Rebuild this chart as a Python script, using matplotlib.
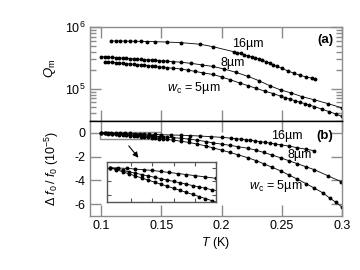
import matplotlib
matplotlib.use("Agg")
import matplotlib.pyplot as plt
import numpy as np
from matplotlib.patches import Rectangle
from matplotlib.ticker import LogLocator, NullFormatter, FixedLocator

plt.rcParams['font.family'] = ['Liberation Sans', 'DejaVu Sans']
plt.rcParams['mathtext.fontset'] = 'custom'
plt.rcParams['mathtext.rm'] = 'Liberation Sans'
plt.rcParams['mathtext.it'] = 'Liberation Sans:italic'

# ---- data: panel (a), Q_m in units of 1e5 ----
T16a = [0.108, 0.112, 0.116, 0.120, 0.124, 0.128, 0.133, 0.138, 0.145, 0.155, 0.166,
        0.1825, 0.193, 0.210, 0.213, 0.216, 0.219, 0.222, 0.225, 0.228, 0.231, 0.234,
        0.237, 0.240, 0.243, 0.246, 0.250, 0.255, 0.260, 0.265, 0.270, 0.275, 0.278]
Q16a = [5.94, 5.93, 5.92, 5.90, 5.89, 5.87, 5.85, 5.82, 5.78, 5.70, 5.58,
        5.25, 4.79, 3.98, 3.85, 3.72, 3.55, 3.39, 3.27, 3.16, 3.02, 2.88,
        2.75, 2.60, 2.45, 2.32, 2.14, 1.95, 1.78, 1.66, 1.55, 1.48, 1.45]

T8a = [0.100, 0.103, 0.106, 0.109, 0.112, 0.115, 0.118, 0.121, 0.124, 0.127, 0.130,
       0.133, 0.136, 0.139, 0.142, 0.145, 0.148, 0.151, 0.155, 0.160, 0.166, 0.175,
       0.184, 0.193, 0.202, 0.212, 0.222, 0.231, 0.240, 0.249, 0.258, 0.267, 0.277,
       0.288, 0.300]
Q8a = [3.31, 3.28, 3.25, 3.22, 3.19, 3.16, 3.13, 3.10, 3.07, 3.04, 3.01,
       2.99, 2.96, 2.93, 2.90, 2.88, 2.85, 2.82, 2.79, 2.74, 2.69, 2.57,
       2.43, 2.29, 2.09, 1.84, 1.58, 1.35, 1.12, 0.955, 0.851, 0.741, 0.661,
       0.575, 0.490]

T5a = [0.103, 0.106, 0.109, 0.112, 0.115, 0.118, 0.121, 0.124, 0.127, 0.130, 0.133,
       0.136, 0.139, 0.142, 0.145, 0.148, 0.151, 0.155, 0.160, 0.166, 0.172, 0.178,
       0.185, 0.193, 0.200, 0.207, 0.215, 0.222, 0.229, 0.236, 0.243, 0.249, 0.253,
       0.257, 0.261, 0.265, 0.269, 0.273, 0.277, 0.283, 0.289, 0.295, 0.300]
Q5a = [2.75, 2.72, 2.69, 2.65, 2.61, 2.58, 2.55, 2.51, 2.48, 2.45, 2.42,
       2.38, 2.35, 2.32, 2.29, 2.26, 2.23, 2.19, 2.14, 2.09, 2.00, 1.91,
       1.80, 1.70, 1.55, 1.40, 1.24, 1.12, 1.01, 0.912, 0.832, 0.759, 0.716,
       0.676, 0.638, 0.603, 0.575, 0.543, 0.513, 0.468, 0.427, 0.389, 0.355]

# ---- data: panel (b), delta f0 / f0 in 1e-5 ----
T16b = [0.100, 0.104, 0.108, 0.112, 0.116, 0.120, 0.124, 0.128, 0.132, 0.136, 0.140,
        0.145, 0.150, 0.158, 0.166, 0.174, 0.1825, 0.191, 0.200, 0.208, 0.212, 0.216,
        0.220, 0.224, 0.228, 0.232, 0.236, 0.240, 0.244, 0.249, 0.256, 0.263, 0.270, 0.277]
D16b = [0, -0.005, -0.01, -0.02, -0.03, -0.04, -0.055, -0.07, -0.085, -0.10, -0.115,
        -0.135, -0.155, -0.18, -0.20, -0.23, -0.27, -0.32, -0.38, -0.45, -0.49, -0.53,
        -0.58, -0.63, -0.68, -0.74, -0.80, -0.86, -0.93, -1.0, -1.12, -1.25, -1.38, -1.5]

T8b = [0.100, 0.103, 0.106, 0.109, 0.112, 0.115, 0.118, 0.121, 0.124, 0.127, 0.130,
       0.133, 0.136, 0.139, 0.142, 0.145, 0.148, 0.151, 0.155, 0.160, 0.166, 0.173,
       0.180, 0.187, 0.193, 0.200, 0.207, 0.214, 0.222, 0.229, 0.235, 0.242, 0.249,
       0.256, 0.263, 0.270, 0.277, 0.288, 0.299]
D8b = [0, -0.02, -0.04, -0.06, -0.08, -0.10, -0.12, -0.14, -0.16, -0.18, -0.20,
       -0.22, -0.24, -0.26, -0.28, -0.30, -0.32, -0.34, -0.37, -0.41, -0.45, -0.53,
       -0.62, -0.73, -0.85, -0.95, -1.05, -1.17, -1.3, -1.47, -1.65, -1.87, -2.1,
       -2.35, -2.6, -2.85, -3.1, -3.6, -4.1]

T5b = [0.100, 0.103, 0.106, 0.109, 0.112, 0.115, 0.118, 0.121, 0.124, 0.127, 0.130,
       0.133, 0.136, 0.139, 0.142, 0.145, 0.148, 0.151, 0.155, 0.160, 0.166, 0.173,
       0.180, 0.187, 0.193, 0.200, 0.207, 0.214, 0.222, 0.229, 0.235, 0.242, 0.249,
       0.256, 0.263, 0.270, 0.277, 0.284, 0.290, 0.295, 0.300]
D5b = [0, -0.03, -0.06, -0.09, -0.12, -0.15, -0.18, -0.21, -0.24, -0.27, -0.30,
       -0.33, -0.36, -0.39, -0.42, -0.45, -0.48, -0.51, -0.55, -0.62, -0.70, -0.81,
       -0.95, -1.10, -1.27, -1.45, -1.65, -1.86, -2.1, -2.35, -2.6, -2.9, -3.2,
       -3.55, -3.9, -4.27, -4.65, -5.05, -5.5, -5.85, -6.25]

xticks = [0.1, 0.15, 0.2, 0.25, 0.3]
xticklabels = ['0.1', '0.15', '0.2', '0.25', '0.3']
yticks_b = [0, -2, -4, -6]
yticklabels_b = ['0', '-2', '-4', '-6']

GREY = '#8c8c8c'
FS = 9

fig = plt.figure(figsize=(3.6, 2.7), dpi=100)
axa = fig.add_axes([0.25, 0.552, 0.70, 0.348])
axb = fig.add_axes([0.25, 0.200, 0.70, 0.352])

def style(ax):
    for s in ['left', 'right', 'top', 'bottom']:
        ax.spines[s].set_color(GREY)
        ax.spines[s].set_linewidth(1.0)
    ax.tick_params(which='both', direction='in', top=True, right=True,
                   color=GREY, labelsize=FS, width=1.0)
    ax.tick_params(which='major', length=8, pad=3)
    ax.tick_params(which='minor', length=4)

line_kw = dict(color='black', lw=0.6, marker='o', ms=1.8, mec='black', mfc='black')

# panel (a)
scale = 1e5
for T, Q in [(T16a, Q16a), (T8a, Q8a), (T5a, Q5a)]:
    axa.plot(T, np.array(Q) * scale, **line_kw)
axa.set_yscale('log')
axa.set_ylim(3.0e4, 1e6)
axa.set_xlim(0.0908, 0.3)
style(axa)
axa.set_xticks(xticks)
axa.tick_params(axis='x', labelbottom=False)
axa.yaxis.set_major_locator(FixedLocator([1e5, 1e6]))
axa.set_yticklabels(['10$^5$', '10$^6$'])
axa.yaxis.set_minor_locator(LogLocator(base=10, subs=np.arange(2, 10)))
axa.yaxis.set_minor_formatter(NullFormatter())
axa.spines['bottom'].set_color('black')
axa.text(0.965, 0.86, '(a)', transform=axa.transAxes, ha='right', va='center',
         fontsize=9.5, fontweight='bold')
axa.text(0.2217, 5.3e5, '16µm', fontsize=FS, ha='center', va='center')
axa.text(0.209, 2.63e5, '8µm', fontsize=FS, ha='center', va='center')
axa.text(0.177, 1.04e5, '$w_\\mathrm{c}$ = 5µm', fontsize=FS, ha='center', va='center')

# panel (b)
for T, D in [(T16b, D16b), (T8b, D8b), (T5b, D5b)]:
    axb.plot(T, D, **line_kw)
axb.set_xlim(0.0908, 0.3)
axb.set_ylim(-7, 1)
style(axb)
axb.spines['top'].set_color('black')
axb.set_xticks(xticks)
axb.set_xticklabels(xticklabels)
axb.set_yticks(yticks_b)
axb.set_yticklabels(yticklabels_b)
axb.set_xlabel('$T$ (K)', fontsize=FS, labelpad=2)
axb.text(0.965, 0.84, '(b)', transform=axb.transAxes, ha='right', va='center',
         fontsize=9.5, fontweight='bold')
axb.text(0.254, -0.23, '16µm', fontsize=FS, ha='center', va='center')
axb.text(0.265, -1.9, '8µm', fontsize=FS, ha='center', va='center')
axb.text(0.245, -4.5, '$w_\\mathrm{c}$ = 5µm', fontsize=FS, ha='center', va='center')
axb.add_patch(Rectangle((0.0995, -0.5), 0.0505, 0.58, fill=False,
                        edgecolor=GREY, lw=1.0))
axb.annotate('', xy=(0.131, -2.1), xytext=(0.123, -1.1),
             arrowprops=dict(arrowstyle='-|>', color='black', lw=0.8,
                             mutation_scale=8, shrinkA=0, shrinkB=0))

fig.text(50 / 360, 1 - 68 / 270, '$Q_\\mathrm{m}$', rotation=90, ha='center',
         va='center', fontsize=9.5)
fig.text(52 / 360, 1 - 168 / 270, '$\\Delta\\ f_0\\, /\\ f_0$ (10$^{-5}$)',
         rotation=90, ha='center', va='center', fontsize=FS)

# inset
axi = fig.add_axes([107 / 360, 1 - 202 / 270, 109 / 360, 40 / 270])
for T, D in [(T16b, D16b), (T8b, D8b), (T5b, D5b)]:
    axi.plot(T, D, **line_kw)
axi.set_xlim(0.0986, 0.15)
axi.set_ylim(-0.5, 0.083)
for s in ['left', 'right', 'top', 'bottom']:
    axi.spines[s].set_color('#555555')
    axi.spines[s].set_linewidth(1.0)
axi.tick_params(which='both', direction='in', top=True, right=True,
                labelbottom=False, labelleft=False, length=3, color='#555555')
axi.set_xticks([0.11, 0.12, 0.13, 0.14])
axi.set_yticks([-0.4, -0.2, 0.0])

fig.savefig('out.png', dpi=100)
